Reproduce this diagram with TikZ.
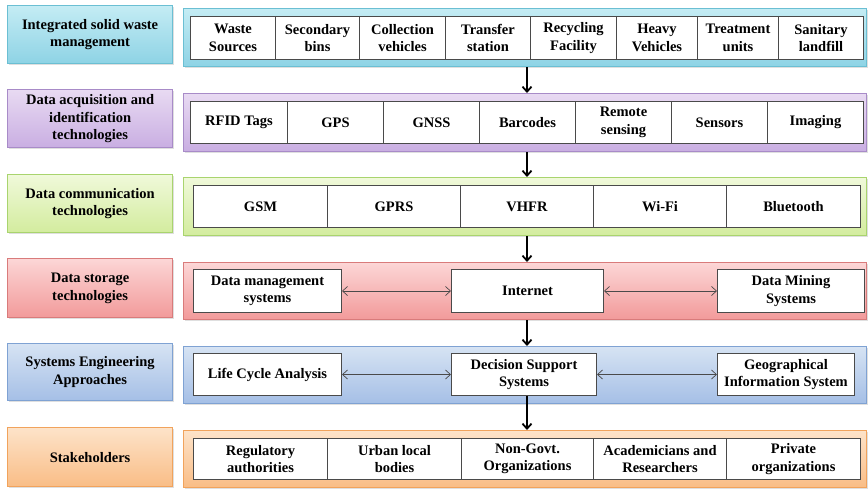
\documentclass[tikz,border=0pt]{standalone}
\usepackage{fontspec}
\setmainfont{Liberation Serif}
\usetikzlibrary{arrows.meta,shadows}
\definecolor{cyanT}{HTML}{C4ECF4}\definecolor{cyanB}{HTML}{8ED3E5}\definecolor{cyanD}{HTML}{6BBFD3}
\definecolor{purT}{HTML}{E8DAF2}\definecolor{purB}{HTML}{C9AEE2}\definecolor{purD}{HTML}{A88BC8}
\definecolor{grnT}{HTML}{F0F9DA}\definecolor{grnB}{HTML}{D3EC9E}\definecolor{grnD}{HTML}{A9D46E}
\definecolor{redT}{HTML}{FCD6D6}\definecolor{redB}{HTML}{F29A9A}\definecolor{redD}{HTML}{D97B7B}
\definecolor{bluT}{HTML}{D6E3F3}\definecolor{bluB}{HTML}{A5BFE6}\definecolor{bluD}{HTML}{7FA2D3}
\definecolor{orgT}{HTML}{FDE3C9}\definecolor{orgB}{HTML}{F9BD86}\definecolor{orgD}{HTML}{F1A35C}
\definecolor{edge}{HTML}{4A4A4A}
\begin{document}
\begin{tikzpicture}[x=1pt,y=-1pt,
  txt/.style={font=\bfseries\fontsize{14.5}{17.5}\selectfont, align=center, text=black},
  band/.style={draw=#1D, top color=#1T, bottom color=#1B, line width=1.2pt, inner sep=0pt, anchor=north west,
     drop shadow={shadow xshift=1.2pt, shadow yshift=-1.2pt, opacity=0.25}},
  lbl/.style={band=#1, txt},
  cell/.style={draw=edge, fill=white, line width=1pt, inner sep=0pt, anchor=north west, txt},
  down/.style={-{Straight Barb[length=5pt,width=9pt,line width=1.8pt]}, line width=1.8pt, black},
  both/.style={{Straight Barb[length=5pt,width=9pt]}-{Straight Barb[length=5pt,width=9pt]}, line width=0.7pt, edge}
]
\useasboundingbox (0,0) rectangle (868,488);

% ---- Row 1
\node[lbl=cyan, minimum width=165, minimum height=58] (l1) at (7,5) {Integrated solid waste\\management};
\node[band=cyan, minimum width=683, minimum height=58] (p1) at (183,8) {};
\node[cell, minimum width=85, minimum height=43] (c11) at (190,16) {Waste\\Sources};
\node[cell, minimum width=84, minimum height=43] (c12) at (275,16) {Secondary\\bins};
\node[cell, minimum width=86, minimum height=43] (c13) at (359,16) {Collection\\vehicles};
\node[cell, minimum width=85, minimum height=43] (c14) at (445,16) {Transfer\\station};
\node[cell, minimum width=86, minimum height=43] (c15) at (530,16) {Recycling\\Facility};
\node[cell, minimum width=81, minimum height=43] (c16) at (616,16) {Heavy\\Vehicles};
\node[cell, minimum width=81, minimum height=43] (c17) at (697,16) {Treatment\\units};
\node[cell, minimum width=85, minimum height=43] (c18) at (778,16) {Sanitary\\landfill};

% ---- Row 2
\node[lbl=pur, minimum width=165, minimum height=58] (l2) at (7,89) {Data acquisition and\\identification\\technologies};
\node[band=pur, minimum width=683, minimum height=58] (p2) at (183,93) {};
\node[cell, minimum width=97, minimum height=42] (c21) at (190,101) {RFID Tags};
\node[cell, minimum width=96, minimum height=42] (c22) at (287,101) {GPS};
\node[cell, minimum width=96, minimum height=42] (c23) at (383,101) {GNSS};
\node[cell, minimum width=96, minimum height=42] (c24) at (479,101) {Barcodes};
\node[cell, minimum width=96, minimum height=42] (c25) at (575,101) {Remote\\sensing};
\node[cell, minimum width=96, minimum height=42] (c26) at (671,101) {Sensors};
\node[cell, minimum width=96, minimum height=42] (c27) at (767,101) {Imaging};

% ---- Row 3
\node[lbl=grn, minimum width=165, minimum height=58] (l3) at (7,174) {Data communication\\technologies};
\node[band=grn, minimum width=683, minimum height=58] (p3) at (183,177) {};
\node[cell, minimum width=134, minimum height=42] (c31) at (193,185) {GSM};
\node[cell, minimum width=133, minimum height=42] (c32) at (327,185) {GPRS};
\node[cell, minimum width=133, minimum height=42] (c33) at (460,185) {VHFR};
\node[cell, minimum width=133, minimum height=42] (c34) at (593,185) {Wi-Fi};
\node[cell, minimum width=134, minimum height=42] (c35) at (726,185) {Bluetooth};

% ---- Row 4
\node[lbl=red, minimum width=165, minimum height=59] (l4) at (7,258) {Data storage\\technologies};
\node[band=red, minimum width=683, minimum height=57] (p4) at (183,262) {};
\node[cell, minimum width=148, minimum height=43] (dms) at (193,269) {Data management\\systems};
\node[cell, minimum width=152, minimum height=43] (int) at (451,269) {Internet};
\node[cell, minimum width=147, minimum height=43] (dmi) at (717,269) {Data Mining\\Systems};
\draw[both] (dms.east) -- (int.west);
\draw[both] (int.east) -- (dmi.west);

% ---- Row 5
\node[lbl=blu, minimum width=165, minimum height=57] (l5) at (7,343) {Systems Engineering\\Approaches};
\node[band=blu, minimum width=683, minimum height=57] (p5) at (183,346) {};
\node[cell, minimum width=148, minimum height=42] (lca) at (193,353) {Life Cycle Analysis};
\node[cell, minimum width=145, minimum height=42] (dss) at (451,353) {Decision Support\\Systems};
\node[cell, minimum width=137, minimum height=42] (gis) at (717,353) {Geographical\\Information System};
\draw[both] (lca.east) -- (dss.west);
\draw[both] (dss.east) -- (gis.west);

% ---- Row 6
\node[lbl=org, minimum width=165, minimum height=59] (l6) at (7,427) {Stakeholders};
\node[band=org, minimum width=683, minimum height=57] (p6) at (183,430) {};
\node[cell, minimum width=134, minimum height=41] (c61) at (193,438) {Regulatory\\authorities};
\node[cell, minimum width=134, minimum height=41] (c62) at (327,438) {Urban local\\bodies};
\node[cell, minimum width=132, minimum height=41] (c63) at (461,438) {Non-Govt.\\Organizations};
\node[cell, minimum width=133, minimum height=41] (c64) at (593,438) {Academicians and\\Researchers};
\node[cell, minimum width=134, minimum height=41] (c65) at (726,438) {Private\\organizations};

% ---- vertical arrows
\coordinate (ax) at (527,0);
\draw[down] (ax |- p1.south) -- (ax |- p2.north);
\draw[down] (ax |- p2.south) -- (ax |- p3.north);
\draw[down] (ax |- p3.south) -- (ax |- p4.north);
\draw[down] (ax |- p4.south) -- (ax |- p5.north);
\draw[down] (ax |- dss.south) -- (ax |- p6.north);
\end{tikzpicture}
\end{document}
